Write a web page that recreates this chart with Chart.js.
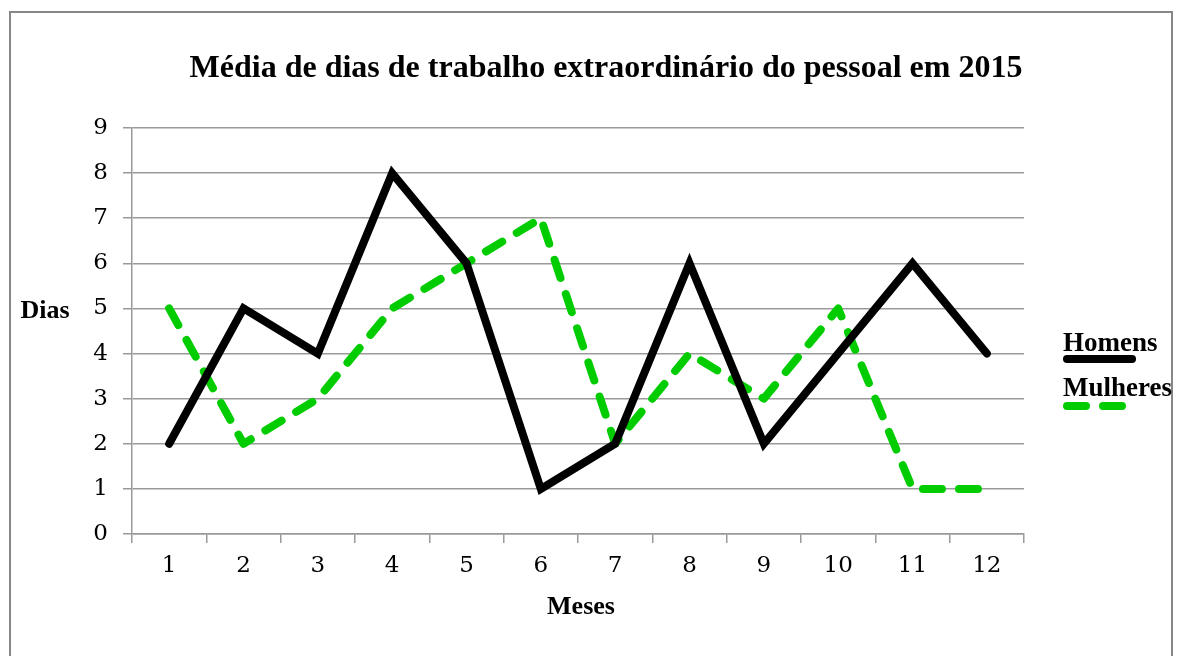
<!DOCTYPE html>
<html>
<head>
<meta charset="utf-8">
<script src="https://cdn.jsdelivr.net/npm/chart.js@4"></script>
<style>
  html, body { margin: 0; padding: 0; background: #fff; }
  #wrap { position: relative; width: 1185px; height: 656px; overflow: hidden; }
  #frame { position: absolute; left: 9px; top: 11px; width: 1164px; height: 700px; border: 2px solid #878787; box-sizing: border-box; }
  canvas { position: absolute; left: 0; top: 0; }
</style>
</head>
<body>
<div id="wrap">
  <div id="frame"></div>
  <canvas id="c" width="1185" height="656"></canvas>
</div>
<script>
const titleText = 'Média de dias de trabalho extraordinário do pessoal em 2015';
const yAxisTitle = 'Dias';
const xAxisTitle = 'Meses';
const months = ['1','2','3','4','5','6','7','8','9','10','11','12'];
const homens = [2, 5, 4, 8, 6, 1, 2, 6, 2, 4, 6, 4];
const mulheres = [5, 2, 3, 5, 6, 7, 2, 4, 3, 5, 1, 1];
const homensLabel = 'Homens';
const mulheresLabel = 'Mulheres';

const greenColor = '#00CC00';
const gridColor = '#9a9a9a';
const serifBold = 'bold {S}px "Liberation Serif", "Times New Roman", serif';
const tickFont = { family: '"DejaVu Serif", serif', size: 23 };

const textPlugin = {
  id: 'texts',
  afterDraw(chart) {
    const ctx = chart.ctx;
    ctx.save();
    ctx.fillStyle = '#000';
    // Title
    ctx.font = serifBold.replace('{S}', 32);
    ctx.textAlign = 'center';
    ctx.textBaseline = 'alphabetic';
    ctx.fillText(titleText, 606, 77);
    // Axis titles
    ctx.font = serifBold.replace('{S}', 26);
    ctx.fillText(yAxisTitle, 45, 318);
    ctx.fillText(xAxisTitle, 581, 614);
    // Legend
    ctx.textAlign = 'left';
    ctx.font = serifBold.replace('{S}', 27);
    const ds = chart.data.datasets;
    const entries = [{x: 1063, y: 351, ly: 359}, {x: 1063, y: 396, ly: 406}];
    ds.forEach((d, i) => {
      const e = entries[i];
      ctx.fillStyle = '#000';
      ctx.fillText(d.label, e.x, e.y);
      ctx.beginPath();
      ctx.strokeStyle = d.borderColor;
      ctx.lineWidth = 8;
      ctx.lineCap = 'round';
      if (d.borderDash && d.borderDash.length) {
        ctx.setLineDash(d.borderDash);
        ctx.moveTo(e.x + 4, e.ly);
        ctx.lineTo(e.x + 60, e.ly);
      } else {
        ctx.setLineDash([]);
        ctx.moveTo(e.x + 4, e.ly);
        ctx.lineTo(e.x + 69, e.ly);
      }
      ctx.stroke();
    });
    ctx.restore();
  }
};

new Chart(document.getElementById('c'), {
  type: 'line',
  data: {
    labels: months,
    datasets: [
      {
        label: homensLabel,
        data: homens,
        borderColor: '#000000',
        backgroundColor: '#000000',
        borderWidth: 8,
        borderCapStyle: 'round',
        borderJoinStyle: 'miter',
        pointRadius: 0,
        tension: 0
      },
      {
        label: mulheresLabel,
        data: mulheres,
        borderColor: greenColor,
        backgroundColor: greenColor,
        borderWidth: 8,
        borderDash: [19, 17],
        borderCapStyle: 'round',
        borderJoinStyle: 'round',
        pointRadius: 0,
        tension: 0
      }
    ]
  },
  options: {
    responsive: false,
    animation: false,
    layout: { padding: { left: 0, right: 161, top: 128, bottom: 0 } },
    plugins: {
      legend: { display: false },
      title: { display: false },
      tooltip: { enabled: false }
    },
    scales: {
      x: {
        type: 'category',
        offset: true,
        afterFit(s) { s.height = 122; },
        grid: {
          offset: true,
          drawOnChartArea: false,
          drawTicks: true,
          tickLength: 9,
          color: gridColor,
          lineWidth: 1.5
        },
        border: { color: gridColor, width: 1.5 },
        ticks: { color: '#000', font: tickFont, padding: 9, maxRotation: 0 }
      },
      y: {
        min: 0,
        max: 9,
        afterFit(s) { s.width = 132; },
        grid: {
          drawOnChartArea: true,
          drawTicks: true,
          tickLength: 9,
          color: gridColor,
          lineWidth: 1.5
        },
        border: { color: gridColor, width: 1.5 },
        ticks: { stepSize: 1, color: '#000', font: tickFont, padding: 15 }
      }
    }
  },
  plugins: [textPlugin]
});
</script>
</body>
</html>
